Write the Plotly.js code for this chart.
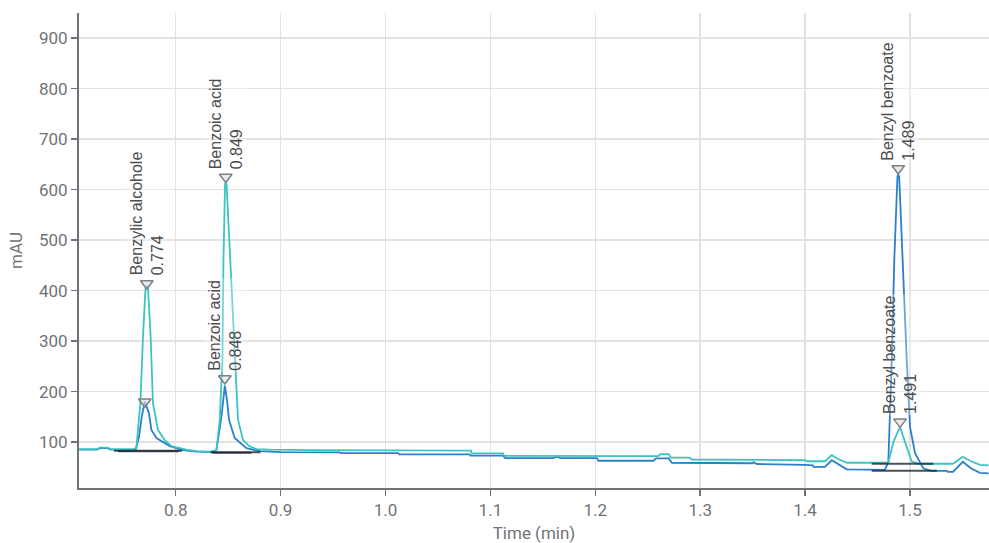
<!DOCTYPE html>
<html>
<head>
<meta charset="utf-8">
<script src="https://cdn.plot.ly/plotly-3.0.1.min.js"></script>
<style>html,body{margin:0;padding:0;background:#fff;}#chart{width:989px;height:543px;}</style>
</head>
<body>
<div id="chart"></div>
<script>
// Teal chromatogram (time in min, signal in mAU)
const tealTime = [0.708,0.725,0.728,0.735,0.738,0.760,0.7625,0.7663,0.7688,0.7712,0.7724,0.7736,0.7761,0.7783,0.7831,0.7895,0.796,0.803,0.810,0.820,0.833,0.8388,0.842,0.8445,0.8455,0.8470,0.8477,0.8485,0.8521,0.8562,0.8594,0.8642,0.870,0.877,0.890,0.930,0.960,1.0815,1.082,1.112,1.113,1.260,1.262,1.270,1.272,1.290,1.292,1.400,1.402,1.419,1.4254,1.432,1.440,1.4793,1.4841,1.4905,1.4952,1.5016,1.508,1.541,1.5503,1.558,1.5667,1.575];
const tealValue = [86,86,89,89,86,86,88,177,308,405,410,405,308,177,124,104,92,88,85,82,81,84,144,262,460,610,615,610,460,262,144,104,92,86,85,84,84,83,77.6,77.6,72.5,72,76,76,69,69,65.5,64,62,62,74,66,59,59,100,130,100,62,57,57,71,62,55,54];
// Blue chromatogram
const blueTime = [0.708,0.725,0.728,0.735,0.738,0.758,0.7619,0.7650,0.7676,0.7705,0.7745,0.7768,0.7816,0.7943,0.8067,0.820,0.836,0.8388,0.8436,0.8468,0.8489,0.8508,0.8562,0.8674,0.880,0.900,0.956,0.958,1.012,1.013,1.080,1.081,1.112,1.114,1.160,1.1629,1.167,1.2016,1.203,1.2553,1.258,1.270,1.273,1.350,1.3507,1.354,1.400,1.4075,1.408,1.419,1.4254,1.432,1.4397,1.476,1.4793,1.4826,1.4850,1.4880,1.4888,1.4897,1.4927,1.4969,1.500,1.5048,1.5127,1.520,1.5352,1.536,1.541,1.5503,1.558,1.5667,1.575];
const blueValue = [85,85,88,88,85,84,86,110,150,180,157,124,108,92,84,81,80,84,150,212,183,144,108,88,82,80,79.6,78,78,75.6,75.6,73,73,68,68,71,68,68,63,63,67.6,67.6,59,58,60,56.5,55,54,51,51,64,56,46,45,60,262,460,625,630,625,460,262,130,78,48,43,43,41,41,61,48,39,38];

// Integration baselines (start time, end time, level)
const baseStart = [0.7412,0.745,0.8331,0.835,1.4635,1.4635];
const baseEnd   = [0.806,0.803,0.8808,0.872,1.5222,1.5255];
const baseLevel = [83,82,80,79,57,43];

// Peak markers and labels
const peakTime  = [0.7724,0.7705,0.8477,0.8468,1.4888,1.4905];
const peakValue = [414,180,625,226,642,140];
const peakName  = ["Benzylic alcohole","","Benzoic acid","Benzoic acid","Benzyl benzoate","Benzyl benzoate"];
const peakRT    = ["0.774","","0.849","0.848","1.489","1.491"];

const xTicks = [0.8,0.9,1.0,1.1,1.2,1.3,1.4,1.5];
const yTicks = [100,200,300,400,500,600,700,800,900];

const TEAL = '#3cc4c0';
const BLUE = '#2b7fcb';
const GREY = '#6f7378';

const traces = [];
traces.push({x: blueTime, y: blueValue, mode: 'lines', line: {color: BLUE, width: 1.8}, hoverinfo: 'skip', showlegend: false});
traces.push({x: tealTime, y: tealValue, mode: 'lines', line: {color: TEAL, width: 1.8}, hoverinfo: 'skip', showlegend: false});
for (let i = 0; i < baseStart.length; i++) {
  traces.push({x: [baseStart[i], baseEnd[i]], y: [baseLevel[i], baseLevel[i]], mode: 'lines',
    line: {color: 'rgba(30,38,50,0.8)', width: 2}, hoverinfo: 'skip', showlegend: false});
}
traces.push({x: peakTime, y: peakValue, mode: 'markers',
  marker: {symbol: 'triangle-down', size: 11, color: 'rgba(220,220,225,0.6)', line: {color: '#7d7f86', width: 1.5}},
  hoverinfo: 'skip', showlegend: false});

const annotations = [];
for (let i = 0; i < peakTime.length; i++) {
  if (!peakName[i]) continue;
  annotations.push({
    x: peakTime[i], y: peakValue[i], xref: 'x', yref: 'y',
    text: peakName[i] + '<br>' + peakRT[i],
    showarrow: false, textangle: -90, align: 'left',
    xanchor: 'center', yanchor: 'bottom', yshift: 6,
    bgcolor: 'rgba(255,255,255,0.3)', borderpad: 1,
    font: {family: 'Liberation Sans, Arial, sans-serif', size: 16, color: '#4d4d4d'}
  });
}

const layout = {
  width: 989, height: 543,
  margin: {l: 79, r: 0, t: 13, b: 55, pad: 0},
  paper_bgcolor: '#fff', plot_bgcolor: '#fff',
  showlegend: false,
  font: {family: 'Roboto, sans-serif', size: 17, color: GREY},
  xaxis: {
    range: [0.7078, 1.5753], tickvals: xTicks, tickformat: '.1f',
    showline: true, linecolor: GREY, linewidth: 2,
    ticks: 'outside', ticklen: 6, tickwidth: 1.5, tickcolor: GREY,
    showgrid: true, gridcolor: '#e2e2e2', gridwidth: 1.5, zeroline: false,
    tickfont: {family: 'Roboto, sans-serif', size: 17, color: GREY},
    title: {text: 'Time (min)', font: {family: 'Roboto, sans-serif', size: 17, color: GREY}, standoff: 8},
    automargin: false
  },
  yaxis: {
    range: [9, 950], tickvals: yTicks,
    showline: true, linecolor: GREY, linewidth: 2,
    ticks: 'outside', ticklen: 6, tickwidth: 1.5, tickcolor: GREY,
    showgrid: true, gridcolor: '#e2e2e2', gridwidth: 1.5, zeroline: false,
    tickfont: {family: 'Roboto, sans-serif', size: 17, color: GREY},
    title: {text: 'mAU', font: {family: 'Roboto, sans-serif', size: 17, color: GREY}, standoff: 12},
    automargin: false
  },
  annotations: annotations
};

Plotly.newPlot('chart', traces, layout, {displayModeBar: false, staticPlot: true});
</script>
</body>
</html>
